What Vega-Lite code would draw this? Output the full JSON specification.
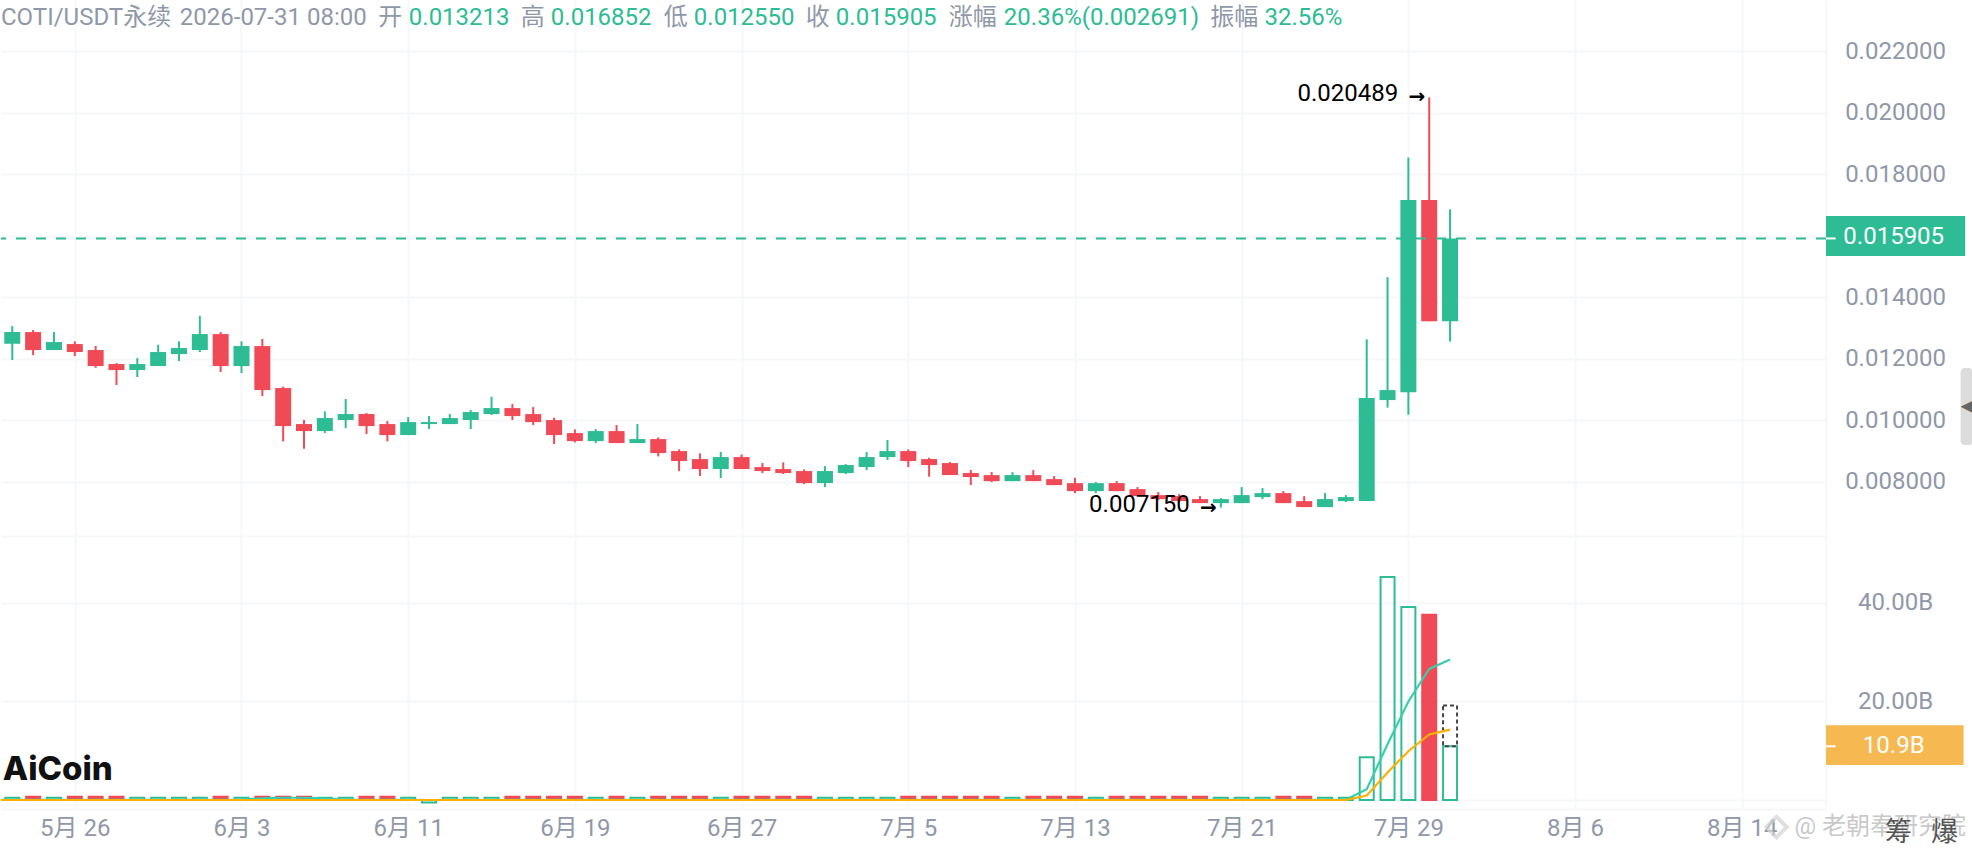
{
  "$schema": "https://vega.github.io/schema/vega-lite/v6.json",
  "padding": 0,
  "background": "white",
  "spacing": 0,
  "config": {
    "font": "Roboto, 'Noto Sans CJK SC', sans-serif",
    "view": {"stroke": null},
    "axis": {"gridColor": "#f6f7f9", "gridWidth": 2, "ticks": false, "domain": false, "labelColor": "#8f98a8", "labelFontSize": 24}
  },
  "datasets": {
    "candles": [
      {"date": "2026-05-22", "open": 0.01299, "high": 0.0130, "low": 0.01249, "close": 0.012492, "volume": 0.65, "ma5": 0.05, "ma10": 0},
      {"date": "2026-05-23", "open": 0.012481, "high": 0.013055, "low": 0.01195, "close": 0.01286, "volume": 0.45, "ma5": 0.05, "ma10": 0},
      {"date": "2026-05-24", "open": 0.01286, "high": 0.012925, "low": 0.012112, "close": 0.012275, "volume": 0.65, "ma5": 0.05, "ma10": 0},
      {"date": "2026-05-25", "open": 0.012275, "high": 0.01286, "low": 0.012275, "close": 0.012535, "volume": 0.45, "ma5": 0.05, "ma10": 0},
      {"date": "2026-05-26", "open": 0.01247, "high": 0.012557, "low": 0.01208, "close": 0.01221, "volume": 0.65, "ma5": 0.05, "ma10": 0},
      {"date": "2026-05-27", "open": 0.012275, "high": 0.012405, "low": 0.0117, "close": 0.011755, "volume": 0.65, "ma5": 0.05, "ma10": 0},
      {"date": "2026-05-28", "open": 0.01182, "high": 0.011852, "low": 0.011137, "close": 0.011625, "volume": 0.65, "ma5": 0.05, "ma10": 0},
      {"date": "2026-05-29", "open": 0.011625, "high": 0.012015, "low": 0.011397, "close": 0.01182, "volume": 0.45, "ma5": 0.05, "ma10": 0},
      {"date": "2026-05-30", "open": 0.011755, "high": 0.012448, "low": 0.011755, "close": 0.01221, "volume": 0.45, "ma5": 0.05, "ma10": 0},
      {"date": "2026-05-31", "open": 0.012145, "high": 0.012557, "low": 0.011917, "close": 0.01234, "volume": 0.45, "ma5": 0.05, "ma10": 0},
      {"date": "2026-06-01", "open": 0.012275, "high": 0.013381, "low": 0.01221, "close": 0.012795, "volume": 0.45, "ma5": 0.05, "ma10": 0},
      {"date": "2026-06-02", "open": 0.012795, "high": 0.01286, "low": 0.01156, "close": 0.011755, "volume": 0.65, "ma5": 0.05, "ma10": 0},
      {"date": "2026-06-03", "open": 0.011755, "high": 0.012557, "low": 0.011527, "close": 0.012405, "volume": 0.45, "ma5": 0.1, "ma10": 0},
      {"date": "2026-06-04", "open": 0.012405, "high": 0.012633, "low": 0.010779, "close": 0.010974, "volume": 0.65, "ma5": 0.35, "ma10": 0},
      {"date": "2026-06-05", "open": 0.011039, "high": 0.011083, "low": 0.009305, "close": 0.009803, "volume": 0.65, "ma5": 0.45, "ma10": 0},
      {"date": "2026-06-06", "open": 0.009868, "high": 0.010001, "low": 0.009066, "close": 0.009641, "volume": 0.65, "ma5": 0.45, "ma10": 0},
      {"date": "2026-06-07", "open": 0.009641, "high": 0.01028, "low": 0.009576, "close": 0.010064, "volume": 0.45, "ma5": 0.35, "ma10": 0},
      {"date": "2026-06-08", "open": 0.010001, "high": 0.010681, "low": 0.009738, "close": 0.010194, "volume": 0.45, "ma5": 0.05, "ma10": 0},
      {"date": "2026-06-09", "open": 0.010194, "high": 0.010226, "low": 0.009543, "close": 0.009803, "volume": 0.65, "ma5": 0.05, "ma10": 0},
      {"date": "2026-06-10", "open": 0.009868, "high": 0.009966, "low": 0.009305, "close": 0.009511, "volume": 0.65, "ma5": 0.05, "ma10": 0},
      {"date": "2026-06-11", "open": 0.009511, "high": 0.010096, "low": 0.009511, "close": 0.009933, "volume": 0.45, "ma5": 0.05, "ma10": 0},
      {"date": "2026-06-12", "open": 0.009868, "high": 0.010129, "low": 0.009706, "close": 0.009933, "volume": -0.5, "ma5": 0, "ma10": 0},
      {"date": "2026-06-13", "open": 0.009868, "high": 0.010194, "low": 0.009868, "close": 0.010064, "volume": 0.45, "ma5": 0, "ma10": 0},
      {"date": "2026-06-14", "open": 0.010001, "high": 0.010324, "low": 0.009706, "close": 0.010259, "volume": 0.45, "ma5": 0, "ma10": 0},
      {"date": "2026-06-15", "open": 0.010194, "high": 0.010757, "low": 0.010161, "close": 0.010389, "volume": 0.45, "ma5": 0, "ma10": 0},
      {"date": "2026-06-16", "open": 0.010388, "high": 0.010519, "low": 0.009998, "close": 0.010128, "volume": 0.65, "ma5": 0.05, "ma10": 0},
      {"date": "2026-06-17", "open": 0.010193, "high": 0.010421, "low": 0.009836, "close": 0.009933, "volume": 0.65, "ma5": 0.05, "ma10": 0},
      {"date": "2026-06-18", "open": 0.009998, "high": 0.010074, "low": 0.009218, "close": 0.00951, "volume": 0.65, "ma5": 0.05, "ma10": 0},
      {"date": "2026-06-19", "open": 0.009575, "high": 0.009695, "low": 0.009272, "close": 0.009315, "volume": 0.65, "ma5": 0.05, "ma10": 0},
      {"date": "2026-06-20", "open": 0.009315, "high": 0.009706, "low": 0.00925, "close": 0.00964, "volume": 0.45, "ma5": 0.05, "ma10": 0},
      {"date": "2026-06-21", "open": 0.00964, "high": 0.009836, "low": 0.00925, "close": 0.00925, "volume": 0.65, "ma5": 0.05, "ma10": 0},
      {"date": "2026-06-22", "open": 0.00925, "high": 0.009868, "low": 0.00925, "close": 0.00938, "volume": 0.45, "ma5": 0.05, "ma10": 0},
      {"date": "2026-06-23", "open": 0.00938, "high": 0.009434, "low": 0.008817, "close": 0.008925, "volume": 0.65, "ma5": 0.05, "ma10": 0},
      {"date": "2026-06-24", "open": 0.00899, "high": 0.009044, "low": 0.00834, "close": 0.008665, "volume": 0.65, "ma5": 0.05, "ma10": 0},
      {"date": "2026-06-25", "open": 0.00873, "high": 0.008914, "low": 0.008177, "close": 0.008405, "volume": 0.65, "ma5": 0.05, "ma10": 0},
      {"date": "2026-06-26", "open": 0.008405, "high": 0.008958, "low": 0.008112, "close": 0.008795, "volume": 0.45, "ma5": 0.05, "ma10": 0},
      {"date": "2026-06-27", "open": 0.008795, "high": 0.008882, "low": 0.008405, "close": 0.008405, "volume": 0.65, "ma5": 0.05, "ma10": 0},
      {"date": "2026-06-28", "open": 0.00847, "high": 0.0086, "low": 0.008275, "close": 0.00834, "volume": 0.65, "ma5": 0.05, "ma10": 0},
      {"date": "2026-06-29", "open": 0.008405, "high": 0.008622, "low": 0.008242, "close": 0.008275, "volume": 0.65, "ma5": 0.05, "ma10": 0},
      {"date": "2026-06-30", "open": 0.00834, "high": 0.008394, "low": 0.007917, "close": 0.007949, "volume": 0.65, "ma5": 0.05, "ma10": 0},
      {"date": "2026-07-01", "open": 0.007949, "high": 0.008502, "low": 0.007819, "close": 0.00834, "volume": 0.45, "ma5": 0.05, "ma10": 0},
      {"date": "2026-07-02", "open": 0.008275, "high": 0.008567, "low": 0.008242, "close": 0.008535, "volume": 0.45, "ma5": 0.05, "ma10": 0},
      {"date": "2026-07-03", "open": 0.00847, "high": 0.008958, "low": 0.008372, "close": 0.008795, "volume": 0.45, "ma5": 0.05, "ma10": 0},
      {"date": "2026-07-04", "open": 0.008795, "high": 0.009348, "low": 0.008697, "close": 0.00899, "volume": 0.45, "ma5": 0.05, "ma10": 0},
      {"date": "2026-07-05", "open": 0.00899, "high": 0.009044, "low": 0.00847, "close": 0.008665, "volume": 0.65, "ma5": 0.05, "ma10": 0},
      {"date": "2026-07-06", "open": 0.00873, "high": 0.008773, "low": 0.008155, "close": 0.008535, "volume": 0.65, "ma5": 0.05, "ma10": 0},
      {"date": "2026-07-07", "open": 0.0086, "high": 0.008632, "low": 0.00821, "close": 0.00821, "volume": 0.65, "ma5": 0.05, "ma10": 0},
      {"date": "2026-07-08", "open": 0.008275, "high": 0.008372, "low": 0.007884, "close": 0.008145, "volume": 0.65, "ma5": 0.05, "ma10": 0},
      {"date": "2026-07-09", "open": 0.008208, "high": 0.008306, "low": 0.007981, "close": 0.008013, "volume": 0.65, "ma5": 0.05, "ma10": 0},
      {"date": "2026-07-10", "open": 0.008013, "high": 0.008306, "low": 0.008013, "close": 0.008208, "volume": 0.45, "ma5": 0.05, "ma10": 0},
      {"date": "2026-07-11", "open": 0.008208, "high": 0.008371, "low": 0.008013, "close": 0.008013, "volume": 0.65, "ma5": 0.05, "ma10": 0},
      {"date": "2026-07-12", "open": 0.008078, "high": 0.008176, "low": 0.007883, "close": 0.007883, "volume": 0.65, "ma5": 0.05, "ma10": 0},
      {"date": "2026-07-13", "open": 0.007948, "high": 0.008122, "low": 0.007623, "close": 0.007688, "volume": 0.65, "ma5": 0.05, "ma10": 0},
      {"date": "2026-07-14", "open": 0.007688, "high": 0.007981, "low": 0.007623, "close": 0.007948, "volume": 0.45, "ma5": 0.05, "ma10": 0},
      {"date": "2026-07-15", "open": 0.007948, "high": 0.008013, "low": 0.007688, "close": 0.007688, "volume": 0.65, "ma5": 0.05, "ma10": 0},
      {"date": "2026-07-16", "open": 0.007753, "high": 0.007818, "low": 0.007525, "close": 0.007525, "volume": 0.65, "ma5": 0.05, "ma10": 0},
      {"date": "2026-07-17", "open": 0.007558, "high": 0.007656, "low": 0.007395, "close": 0.007428, "volume": 0.65, "ma5": 0.05, "ma10": 0},
      {"date": "2026-07-18", "open": 0.007525, "high": 0.00759, "low": 0.00733, "close": 0.007363, "volume": 0.65, "ma5": 0.05, "ma10": 0},
      {"date": "2026-07-19", "open": 0.007428, "high": 0.007525, "low": 0.007298, "close": 0.007298, "volume": 0.65, "ma5": 0.05, "ma10": 0},
      {"date": "2026-07-20", "open": 0.007298, "high": 0.00746, "low": 0.00715, "close": 0.007428, "volume": 0.45, "ma5": 0.05, "ma10": 0},
      {"date": "2026-07-21", "open": 0.007298, "high": 0.007818, "low": 0.007298, "close": 0.007558, "volume": 0.45, "ma5": 0.05, "ma10": 0},
      {"date": "2026-07-22", "open": 0.007493, "high": 0.007786, "low": 0.007428, "close": 0.007623, "volume": 0.45, "ma5": 0.05, "ma10": 0},
      {"date": "2026-07-23", "open": 0.007623, "high": 0.007688, "low": 0.007298, "close": 0.007298, "volume": 0.65, "ma5": 0.05, "ma10": 0},
      {"date": "2026-07-24", "open": 0.007363, "high": 0.007525, "low": 0.007168, "close": 0.007168, "volume": 0.65, "ma5": 0.05, "ma10": 0},
      {"date": "2026-07-25", "open": 0.007168, "high": 0.007623, "low": 0.007168, "close": 0.007428, "volume": 0.45, "ma5": 0.05, "ma10": 0},
      {"date": "2026-07-26", "open": 0.007363, "high": 0.007558, "low": 0.00733, "close": 0.007493, "volume": 0.45, "ma5": 0.05, "ma10": 0},
      {"date": "2026-07-27", "open": 0.007363, "high": 0.012623, "low": 0.007363, "close": 0.010717, "volume": 8.7, "ma5": 2.2, "ma10": 0.9},
      {"date": "2026-07-28", "open": 0.010648, "high": 0.014645, "low": 0.010404, "close": 0.010973, "volume": 45.3, "ma5": 11.3, "ma10": 5.6},
      {"date": "2026-07-29", "open": 0.010903, "high": 0.018536, "low": 0.010172, "close": 0.017154, "volume": 39.2, "ma5": 20.0, "ma10": 9.9},
      {"date": "2026-07-30", "open": 0.017154, "high": 0.020489, "low": 0.013213, "close": 0.013213, "volume": 37.6, "ma5": 26.6, "ma10": 13.3},
      {"date": "2026-07-31", "open": 0.013213, "high": 0.016852, "low": 0.01255, "close": 0.015905, "volume": 10.9, "ma5": 28.5, "ma10": 14.3}
    ],
    "header": [
      {"text": "COTI/USDT永续", "at": "2026-05-22T11:00:00Z", "kind": "label"},
      {"text": "2026-07-31 08:00", "at": "2026-05-31T00:56:00Z", "kind": "label"},
      {"text": "开", "at": "2026-06-09T13:35:00Z", "kind": "label"},
      {"text": "0.013213", "at": "2026-06-11T00:43:00Z", "kind": "value"},
      {"text": "高", "at": "2026-06-16T09:43:00Z", "kind": "label"},
      {"text": "0.016852", "at": "2026-06-17T20:17:00Z", "kind": "value"},
      {"text": "低", "at": "2026-06-23T06:26:00Z", "kind": "label"},
      {"text": "0.012550", "at": "2026-06-24T16:59:00Z", "kind": "value"},
      {"text": "收", "at": "2026-06-30T02:01:00Z", "kind": "label"},
      {"text": "0.015905", "at": "2026-07-01T12:35:00Z", "kind": "value"},
      {"text": "涨幅", "at": "2026-07-06T22:44:00Z", "kind": "label"},
      {"text": "20.36%(0.002691)", "at": "2026-07-09T14:05:00Z", "kind": "value"},
      {"text": "振幅", "at": "2026-07-19T11:56:00Z", "kind": "label"},
      {"text": "32.56%", "at": "2026-07-22T02:10:00Z", "kind": "value"}
    ],
    "extremes": [
      {"date": "2026-07-30", "price": 0.020489, "text": "0.020489"},
      {"date": "2026-07-20", "price": 0.00715, "text": "0.007150"}
    ],
    "one": [{}]
  },
  "vconcat": [
    {
      "width": 1825,
      "height": 536,
      "layer": [
        {
          "data": {"name": "candles"},
          "mark": {"type": "rule", "strokeWidth": 2, "clip": true},
          "encoding": {
            "x": {
              "field": "date", "type": "temporal",
              "scale": {
                "type": "utc", "nice": false, "padding": 0,
                "domain": [
                  {"year": 2026, "month": 5, "date": 22, "hours": 11, "utc": true},
                  {"year": 2026, "month": 8, "date": 18, "hours": 1, "utc": true}
                ]
              },
              "axis": {"title": null, "labels": false, "values": ["2026-05-26", "2026-06-03", "2026-06-11", "2026-06-19", "2026-06-27", "2026-07-05", "2026-07-13", "2026-07-21", "2026-07-29", "2026-08-06", "2026-08-14", "2026-08-18T01:00:00Z"]}
            },
            "y": {
              "field": "high", "type": "quantitative",
              "scale": {"domain": [0.006228, 0.023659], "nice": false, "zero": false},
              "axis": {
                "title": null, "orient": "right", "labelAlign": "center", "labelPadding": 69,
                "values": [0.006228, 0.008, 0.010, 0.012, 0.014, 0.016, 0.018, 0.020, 0.022],
                "labelExpr": "(datum.value < 0.007 || datum.value == 0.016) ? '' : format(datum.value, '.6f')"
              }
            },
            "y2": {"field": "low"},
            "color": {"condition": {"test": "datum.close >= datum.open", "value": "#2DBC93"}, "value": "#F04A56"}
          }
        },
        {
          "data": {"name": "candles"},
          "mark": {"type": "bar", "size": 16, "clip": true},
          "encoding": {
            "x": {"field": "date", "type": "temporal"},
            "y": {"field": "open", "type": "quantitative"},
            "y2": {"field": "close"},
            "color": {"condition": {"test": "datum.close >= datum.open", "value": "#2DBC93"}, "value": "#F04A56"}
          }
        },
        {
          "data": {"values": [{"price": 0.015905}]},
          "mark": {"type": "rule", "color": "#2DBC93", "strokeWidth": 2, "strokeDash": [10, 10]},
          "encoding": {"y": {"field": "price", "type": "quantitative"}}
        },
        {
          "data": {"name": "extremes"},
          "mark": {"type": "text", "align": "right", "baseline": "middle", "fontSize": 24, "dx": -31, "dy": -3, "color": "#000000"},
          "encoding": {
            "x": {"field": "date", "type": "temporal"},
            "y": {"field": "price", "type": "quantitative"},
            "text": {"field": "text"}
          }
        },
        {
          "data": {"name": "extremes"},
          "mark": {"type": "text", "text": "→", "font": "DejaVu Sans", "fontWeight": "bold", "align": "right", "baseline": "middle", "fontSize": 20, "dx": -4, "color": "#000000"},
          "encoding": {
            "x": {"field": "date", "type": "temporal"},
            "y": {"field": "price", "type": "quantitative"}
          }
        },
        {
          "data": {"name": "header"},
          "mark": {"type": "text", "align": "left", "baseline": "middle", "fontSize": 24},
          "encoding": {
            "x": {"field": "at", "type": "temporal"},
            "y": {"datum": 0.023075, "type": "quantitative"},
            "text": {"field": "text"},
            "color": {"field": "kind", "type": "nominal", "legend": null, "scale": {"domain": ["label", "value"], "range": ["#8F98A8", "#2DBC93"]}}
          }
        },
        {
          "data": {"name": "one"},
          "mark": {"type": "rect", "color": "#2DBC93"},
          "encoding": {
            "x": {"datum": {"year": 2026, "month": 8, "date": 18, "hours": 1, "utc": true}, "type": "temporal"},
            "x2": {"datum": {"year": 2026, "month": 8, "date": 24, "hours": 17, "minutes": 20, "utc": true}},
            "y": {"datum": 0.016634, "type": "quantitative"},
            "y2": {"datum": 0.015333}
          }
        },
        {
          "data": {"name": "one"},
          "mark": {"type": "rule", "color": "#FFFFFF", "strokeWidth": 2},
          "encoding": {
            "x": {"datum": {"year": 2026, "month": 8, "date": 18, "hours": 1, "utc": true}, "type": "temporal"},
            "x2": {"datum": {"year": 2026, "month": 8, "date": 18, "hours": 12, "utc": true}},
            "y": {"datum": 0.015905, "type": "quantitative"}
          }
        },
        {
          "data": {"name": "one"},
          "mark": {"type": "text", "text": "0.015905", "color": "#FFFFFF", "fontSize": 24, "align": "center", "baseline": "middle", "dy": -1},
          "encoding": {
            "x": {"datum": {"year": 2026, "month": 8, "date": 21, "hours": 7, "utc": true}, "type": "temporal"},
            "y": {"datum": 0.015905, "type": "quantitative"}
          }
        },
        {
          "data": {"name": "one"},
          "mark": {"type": "rect", "color": "#DCDCDC", "cornerRadius": 4},
          "encoding": {
            "x": {"datum": {"year": 2026, "month": 8, "date": 24, "hours": 12, "utc": true}, "type": "temporal"},
            "x2": {"datum": {"year": 2026, "month": 8, "date": 25, "hours": 2, "utc": true}},
            "y": {"datum": 0.011689, "type": "quantitative"},
            "y2": {"datum": 0.009184}
          }
        },
        {
          "data": {"name": "one"},
          "mark": {"type": "text", "text": "◀", "color": "#666666", "fontSize": 16, "align": "center", "baseline": "middle", "font": "DejaVu Sans"},
          "encoding": {
            "x": {"datum": {"year": 2026, "month": 8, "date": 24, "hours": 19, "utc": true}, "type": "temporal"},
            "y": {"datum": 0.010453, "type": "quantitative"}
          }
        }
      ]
    },
    {
      "width": 1825,
      "height": 273,
      "layer": [
        {
          "data": {"name": "candles"},
          "mark": {"type": "bar", "size": 14, "strokeWidth": 2, "clip": true},
          "encoding": {
            "x": {
              "field": "date", "type": "temporal",
              "scale": {
                "type": "utc", "nice": false, "padding": 0,
                "domain": [
                  {"year": 2026, "month": 5, "date": 22, "hours": 11, "utc": true},
                  {"year": 2026, "month": 8, "date": 18, "hours": 1, "utc": true}
                ]
              },
              "axis": {
                "title": null, "labelPadding": 7,
                "values": ["2026-05-26", "2026-06-03", "2026-06-11", "2026-06-19", "2026-06-27", "2026-07-05", "2026-07-13", "2026-07-21", "2026-07-29", "2026-08-06", "2026-08-14", "2026-08-18T01:00:00Z"],
                "labelExpr": "utcdate(datum.value) == 18 ? '' : utcFormat(datum.value, '%-m月 %-d')"
              }
            },
            "y": {
              "field": "volume", "type": "quantitative", "stack": null,
              "scale": {"domain": [-1.83, 53.6], "nice": false, "zero": false},
              "axis": {"title": null, "orient": "right", "values": [-1.83, 0, 20, 40], "labelExpr": "datum.value <= 0 ? '' : format(datum.value, '.2f') + 'B'", "labelAlign": "center", "labelPadding": 69}
            },
            "stroke": {"condition": {"test": "datum.close >= datum.open", "value": "#2DBC93"}, "value": "#F04A56"},
            "fill": {"condition": {"test": "datum.close >= datum.open", "value": "transparent"}, "value": "#F04A56"}
          }
        },
        {
          "data": {"values": [{"date": "2026-07-31", "from": 10.9, "to": 19.2}]},
          "mark": {"type": "bar", "size": 14, "fill": "transparent", "stroke": "#444444", "strokeWidth": 2, "strokeDash": [4, 3]},
          "encoding": {
            "x": {"field": "date", "type": "temporal"},
            "y": {"field": "from", "type": "quantitative"},
            "y2": {"field": "to"}
          }
        },
        {
          "data": {"name": "candles"},
          "mark": {"type": "line", "color": "#36CFAE", "strokeWidth": 2.2, "clip": true},
          "encoding": {
            "x": {"field": "date", "type": "temporal"},
            "y": {"field": "ma5", "type": "quantitative"}
          }
        },
        {
          "data": {"name": "candles"},
          "mark": {"type": "line", "color": "#FFB000", "strokeWidth": 2.2, "clip": true},
          "encoding": {
            "x": {"field": "date", "type": "temporal"},
            "y": {"field": "ma10", "type": "quantitative"}
          }
        },
        {
          "data": {"name": "one"},
          "mark": {"type": "rect", "color": "#F6B850"},
          "encoding": {
            "x": {"datum": {"year": 2026, "month": 8, "date": 18, "hours": 1, "utc": true}, "type": "temporal"},
            "x2": {"datum": {"year": 2026, "month": 8, "date": 24, "hours": 15, "minutes": 30, "utc": true}},
            "y": {"datum": 15.2, "type": "quantitative"},
            "y2": {"datum": 7.1}
          }
        },
        {
          "data": {"name": "one"},
          "mark": {"type": "rule", "color": "#FFFFFF", "strokeWidth": 2},
          "encoding": {
            "x": {"datum": {"year": 2026, "month": 8, "date": 18, "hours": 1, "utc": true}, "type": "temporal"},
            "x2": {"datum": {"year": 2026, "month": 8, "date": 18, "hours": 12, "utc": true}},
            "y": {"datum": 10.9, "type": "quantitative"}
          }
        },
        {
          "data": {"name": "one"},
          "mark": {"type": "text", "text": "10.9B", "color": "#FFFFFF", "fontSize": 24, "align": "center", "baseline": "middle"},
          "encoding": {
            "x": {"datum": {"year": 2026, "month": 8, "date": 21, "hours": 7, "utc": true}, "type": "temporal"},
            "y": {"datum": 10.9, "type": "quantitative"}
          }
        },
        {
          "data": {"name": "one"},
          "mark": {"type": "text", "text": "AiCoin", "color": "#111111", "font": "Inter", "fontWeight": 800, "fontSize": 33, "align": "left", "baseline": "middle"},
          "encoding": {
            "x": {"datum": {"year": 2026, "month": 5, "date": 22, "hours": 13, "utc": true}, "type": "temporal"},
            "y": {"datum": 6.1, "type": "quantitative"}
          }
        },
        {
          "data": {"name": "one"},
          "mark": {"type": "point", "shape": "diamond", "size": 420, "filled": false, "stroke": "#D4D4D4", "strokeWidth": 4},
          "encoding": {
            "x": {"datum": {"year": 2026, "month": 8, "date": 15, "hours": 16, "utc": true}, "type": "temporal"},
            "y": {"datum": -5.5, "type": "quantitative"}
          }
        },
        {
          "data": {"name": "one"},
          "mark": {"type": "text", "text": "@ 老朝奉研究院", "color": "#C9C9C9", "fontSize": 24, "align": "left", "baseline": "middle"},
          "encoding": {
            "x": {"datum": {"year": 2026, "month": 8, "date": 16, "hours": 12, "minutes": 47, "utc": true}, "type": "temporal"},
            "y": {"datum": -5.5, "type": "quantitative"}
          }
        },
        {
          "data": {"name": "one"},
          "mark": {"type": "text", "text": "筹", "color": "#555555", "fontSize": 27, "align": "center", "baseline": "middle"},
          "encoding": {
            "x": {"datum": {"year": 2026, "month": 8, "date": 21, "hours": 12, "minutes": 30, "utc": true}, "type": "temporal"},
            "y": {"datum": -6.8, "type": "quantitative"}
          }
        },
        {
          "data": {"name": "one"},
          "mark": {"type": "text", "text": "爆", "color": "#555555", "fontSize": 27, "align": "center", "baseline": "middle"},
          "encoding": {
            "x": {"datum": {"year": 2026, "month": 8, "date": 23, "hours": 17, "minutes": 30, "utc": true}, "type": "temporal"},
            "y": {"datum": -6.8, "type": "quantitative"}
          }
        }
      ]
    }
  ]
}
